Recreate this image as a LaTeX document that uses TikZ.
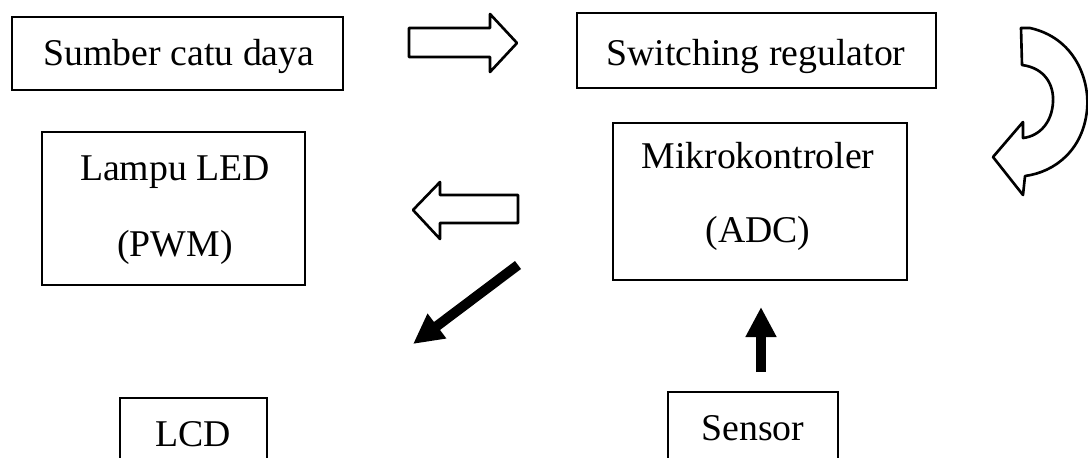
\documentclass[tikz,border=0pt]{standalone}
\usepackage{fontspec}
\setmainfont{Liberation Serif}
\usetikzlibrary{arrows.meta}

\tikzset{
  blk/.style={draw=black, line width=1.2pt, rectangle, inner sep=0pt, fill=none},
  lbl/.style={anchor=base, inner sep=0pt, font=\fontsize{21.5}{24}\selectfont},
  hollowarrow/.style={draw=black, line width=1.5pt, line join=round, fill=white},
  solidarrow/.style={draw=black, line width=0.2cm,
    -{Triangle[length=0.6cm, width=0.58cm]}},
}

\begin{document}
\begin{tikzpicture}[x=0.02cm, y=-0.02cm]
  \useasboundingbox (0,0) rectangle (1088,457);
  \clip (0,0) rectangle (1088,457);

  % block frames
  \node[blk, minimum width=6.62cm, minimum height=1.46cm] (sumber) at (177.5,53.5) {};
  \node[blk, minimum width=7.18cm, minimum height=1.50cm] (switch) at (756.5,50.5) {};
  \node[blk, minimum width=5.26cm, minimum height=3.06cm] (lampu)  at (173.5,208.5) {};
  \node[blk, minimum width=5.88cm, minimum height=3.14cm] (mcu)    at (760,201.5) {};
  \node[blk, minimum width=2.94cm, minimum height=1.44cm] (lcd)    at (193.5,434) {};
  \node[blk, minimum width=3.40cm, minimum height=1.56cm] (sensor) at (753,431) {};

  % block labels
  \node[lbl] (sumbert)  at (179,65)  {Sumber catu daya};
  \node[lbl] (switcht)  at (756,65)  {Switching regulator};
  \node[lbl] (lampua)   at (175,180) {Lampu LED};
  \node[lbl] (lampub)   at (175,256) {(PWM)};
  \node[lbl] (mcua)     at (758,168) {Mikrokontroler};
  \node[lbl] (mcub)     at (758,242) {(ADC)};
  \node[lbl] (lcdt)     at (193,446) {LCD};
  \node[lbl] (sensort)  at (753,440) {Sensor};

  % power flow: supply to regulator
  \draw[hollowarrow] (409,28) -- (490,28) -- (490,14) -- (517,43) -- (490,72)
    -- (490,57) -- (409,57) -- cycle;

  % regulator down to microcontroller
  \draw[hollowarrow] (1022,65) -- (1021,28) -- (1030,28)
    .. controls (1075,38) and (1090,80) .. (1087,110)
    .. controls (1083,150) and (1055,172) .. (1025,176)
    -- (1023,195) -- (993,157) -- (1023,122) -- (1023,138)
    .. controls (1040,136) and (1052,122) .. (1053,102)
    .. controls (1054,85) and (1045,68) .. (1022,65) -- cycle;

  % microcontroller to LED lamp
  \draw[hollowarrow] (518,195) -- (440,195) -- (440,182) -- (413,210) -- (440,239)
    -- (440,223) -- (518,223) -- cycle;

  % microcontroller to LCD
  \coordinate (lcdfrom) at (518,265);
  \coordinate (lcdto)   at (413,344);
  \draw[solidarrow] (lcdfrom) -- (lcdto);

  % sensor to microcontroller
  \coordinate (senfrom) at (761,372);
  \coordinate (sento)   at (761,307);
  \draw[solidarrow] (senfrom) -- (sento);
\end{tikzpicture}
\end{document}
